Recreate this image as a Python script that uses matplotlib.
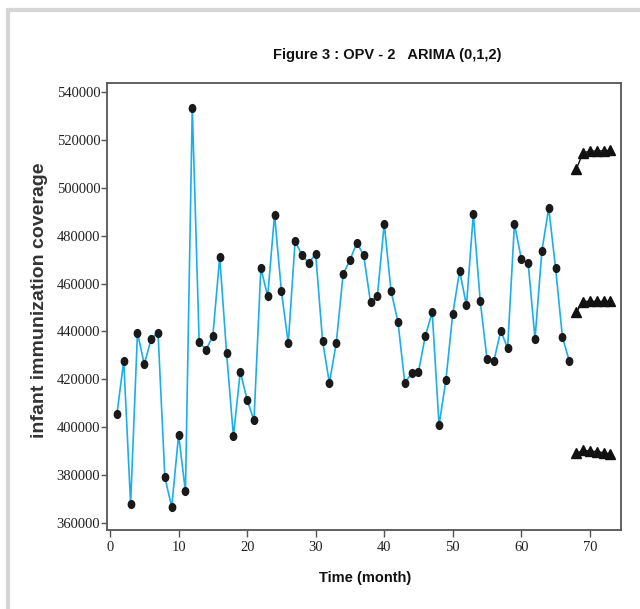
import matplotlib
matplotlib.use("Agg")
import matplotlib.pyplot as plt
from matplotlib.path import Path
from matplotlib.transforms import Affine2D
from matplotlib.patches import Rectangle

# ---- data ----
months = list(range(1, 68))
coverage = [405400, 427700, 367800, 439500, 426300, 436900, 439500, 379000, 366600, 396800,
            373100, 533600, 435700, 432300, 438200, 471200, 431000, 396200, 423200, 411400,
            402800, 466500, 454700, 488900, 456800, 435100, 477800, 471900, 468600, 472500,
            436200, 418500, 435100, 463900, 469800, 477100, 471900, 452200, 454800, 485000,
            456800, 444100, 418500, 422500, 423200, 438200, 448100, 400800, 419700, 447400,
            465300, 450900, 489100, 452900, 428400, 427700, 440300, 433000, 485000, 470400,
            468600, 436900, 473700, 491600, 466500, 437600, 427700]
fc_months = [68, 69, 70, 71, 72, 73]
fc_upper = [507800, 514700, 515400, 515500, 515600, 515700]
fc_mid = [448000, 452500, 452600, 452600, 452600, 452600]
fc_lower = [389000, 390300, 390000, 389800, 389300, 388800]
yticks = [360000, 380000, 400000, 420000, 440000, 460000, 480000, 500000, 520000, 540000]
xticks = [0, 10, 20, 30, 40, 50, 60, 70]

fig = plt.figure(figsize=(6.4, 6.09), dpi=100)
ax = fig.add_axes([107.3/640, 1-530/609, (620.7-107.3)/640, (530-83)/609])

# light gray frame around figure
fig.patches.append(Rectangle((8/640, -0.05), 1.2, 1-10/609+0.05, transform=fig.transFigure,
                             fill=False, edgecolor='#d6d6d6', lw=3, zorder=0))

ell = Path.unit_circle().transformed(Affine2D().scale(0.82, 1.0))

ax.plot(months, coverage, color='#1aaeea', lw=1.2, marker=ell, markersize=5.6,
        markerfacecolor='#1a1a1a', markeredgecolor='#1a1a1a', zorder=3)
for fc in (fc_upper, fc_mid, fc_lower):
    ax.plot(fc_months, fc, color='#111111', lw=1.0, marker='^', markersize=7.5,
            markerfacecolor='#111111', markeredgecolor='#111111', zorder=3)

ax.set_xlim(-0.4, 74.5)
ax.set_ylim(357000, 543900)
ax.set_xticks(xticks)
ax.set_yticks(yticks)
tickfont = dict(family=['Liberation Serif', 'DejaVu Serif'], size=10.5)
ax.set_xticklabels([str(v) for v in xticks], **tickfont)
ax.set_yticklabels([str(v) for v in yticks], **tickfont)
ax.tick_params(axis='both', direction='out', length=4, width=1.0, color='#555555',
               labelcolor='#222222')
ax.tick_params(axis='x', length=5, pad=3)
ax.tick_params(axis='y', pad=1)
for s in ax.spines.values():
    s.set_color('#555555')
    s.set_linewidth(1.3)

fig.text(387/640, 1-55/609, 'Figure 3 : OPV - 2   ARIMA (0,1,2)', ha='center', va='center',
         family=['Liberation Sans', 'DejaVu Sans'], weight='bold',
         size=10.5, color='#111111')
fig.text(365/640, 1-578/609, 'Time (month)', ha='center', va='center',
         family=['Liberation Sans', 'DejaVu Sans'], weight='bold',
         size=10.5, color='#111111')
fig.text(40/640, 1-300/609, 'infant immunization coverage', ha='center', va='center',
         rotation=90, family=['Liberation Sans', 'DejaVu Sans'], weight='bold',
         size=14, color='#333333')

fig.savefig('out.png', dpi=100)
